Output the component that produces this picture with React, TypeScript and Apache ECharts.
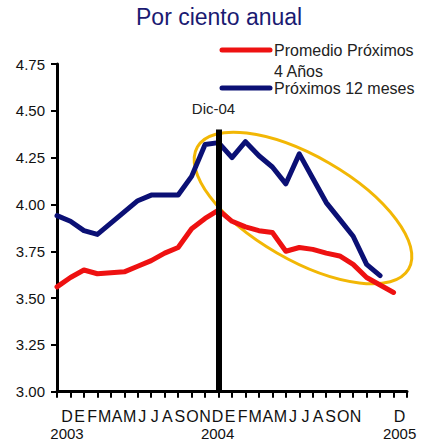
import { useEffect, useRef } from 'react';
import * as echarts from 'echarts';

const titleText = 'Por ciento anual';
const periods = ['P01','P02','P03','P04','P05','P06','P07','P08','P09','P10','P11','P12','P13','P14','P15','P16','P17','P18','P19','P20','P21','P22','P23','P24','P25','P26','P27'];
const next12Name = 'Próximos 12 meses';
const next4Name = 'Promedio Próximos 4 Años';
const next4NameLines = ['Promedio Próximos', '4 Años'];
const next12Values = [3.94, 3.91, 3.86, 3.84, 3.90, 3.96, 4.02, 4.05, 4.05, 4.05, 4.15, 4.32, 4.33, 4.25, 4.335, 4.26, 4.20, 4.11, 4.27, 4.14, 4.01, 3.92, 3.83, 3.68, 3.62];
const next4Values = [3.56, 3.61, 3.65, 3.63, 3.635, 3.64, 3.67, 3.70, 3.74, 3.77, 3.87, 3.925, 3.97, 3.91, 3.88, 3.86, 3.85, 3.75, 3.77, 3.76, 3.74, 3.725, 3.68, 3.61, 3.57, 3.53];
const yMin = 3.0;
const yMax = 4.75;
const yStep = 0.25;
const monthLetters = ['D','E','F','M','A','M','J','J','A','S','O','N','D','E','F','M','A','M','J','J','A','S','O','N','D'];
const letterSlots = [0,1,2,3,4,5,6,7,8,9,10,11,12,13,14,15,16,17,18,19,20,21,22,23,26.5];
const yearSlots = [0, 12, 26.5];
const yearLabels = ['2003', '2004', '2005'];
const markerPeriod = 'P13';
const markerTop = 4.4;
const markerLabel = 'Dic-04';

const FONT = "'Liberation Sans', Arial, sans-serif";
const RED = '#ee1111';
const BLUE = '#0b1075';

export default function App() {
  const ref = useRef<HTMLDivElement>(null);
  useEffect(() => {
    if (!ref.current) return;
    const chart = echarts.init(ref.current, null, { renderer: 'svg' });
    const findIdx = (arr: number[], v: number) => arr.findIndex((a) => Math.abs(a - v) < 1e-6);
    const labelAxis = (margin: number, size: number, fmt: (v: number) => string) => ({
      type: 'value',
      gridIndex: 1,
      position: 'bottom',
      min: -1,
      max: 27,
      interval: 0.5,
      axisLine: { show: false },
      axisTick: { show: false },
      splitLine: { show: false },
      axisLabel: {
        show: true,
        margin,
        fontFamily: FONT,
        fontSize: size,
        lineHeight: size + 1,
        color: '#111',
        showMinLabel: true,
        showMaxLabel: true,
        formatter: fmt,
      },
    });
    chart.setOption({
      animation: false,
      backgroundColor: '#fff',
      title: {
        text: titleText,
        left: 136,
        top: 5,
        padding: 0,
        textStyle: { fontFamily: FONT, fontSize: 23, fontWeight: 'normal', color: '#1a1a72' },
      },
      grid: [
        { left: 57, right: 17, top: 64, bottom: 50.3, containLabel: false, outerBoundsMode: 'none' },
        { left: 54.45, right: 18.15, top: 64, bottom: 50.3, containLabel: false, outerBoundsMode: 'none' },
      ],
      xAxis: [
        {
          type: 'category',
          gridIndex: 0,
          data: periods,
          boundaryGap: false,
          axisLine: { lineStyle: { color: '#000', width: 3 } },
          axisTick: { show: true, interval: 0, length: 6, lineStyle: { color: '#000', width: 2 } },
          axisLabel: { show: false },
          splitLine: { show: false },
        },
        labelAxis(16, 16, (v: number) => {
          const i = findIdx(letterSlots, v);
          return i < 0 ? '' : monthLetters[i];
        }),
        labelAxis(33.5, 15, (v: number) => {
          const i = findIdx(yearSlots, v);
          return i < 0 ? '' : yearLabels[i];
        }),
      ],
      yAxis: [
        {
          type: 'value',
          gridIndex: 0,
          min: yMin,
          max: yMax,
          interval: yStep,
          axisLine: { show: true, lineStyle: { color: '#000', width: 3 } },
          axisTick: { show: true, length: 6, lineStyle: { color: '#000', width: 2 } },
          axisLabel: {
            margin: 12,
            fontFamily: FONT,
            fontSize: 15,
            color: '#111',
            formatter: (v: number) => v.toFixed(2),
          },
          splitLine: { show: false },
        },
        { type: 'value', gridIndex: 1, min: 0, max: 1, show: false },
      ],
      series: [
        {
          name: next4Name,
          type: 'line',
          xAxisIndex: 0,
          yAxisIndex: 0,
          data: next4Values,
          showSymbol: false,
          symbol: 'none',
          lineStyle: { color: RED, width: 5, cap: 'round', join: 'round' },
          z: 3,
          markLine: {
            silent: true,
            symbol: ['none', 'none'],
            lineStyle: { color: '#000', width: 6, type: 'solid' },
            label: {
              show: true,
              position: 'end',
              distance: 14,
              offset: [-5, 0],
              formatter: markerLabel,
              fontFamily: FONT,
              fontSize: 15,
              color: '#222',
            },
            data: [[{ coord: [markerPeriod, yMin] }, { coord: [markerPeriod, markerTop] }]],
          },
        },
        {
          name: next12Name,
          type: 'line',
          xAxisIndex: 0,
          yAxisIndex: 0,
          data: next12Values,
          showSymbol: false,
          symbol: 'none',
          lineStyle: { color: BLUE, width: 5, cap: 'round', join: 'round' },
          z: 2,
        },
      ],
      graphic: [
        {
          type: 'ellipse',
          x: 303,
          y: 208,
          rotation: -0.524,
          shape: { cx: 0, cy: 0, rx: 122, ry: 52 },
          style: { fill: 'none', stroke: '#f2b705', lineWidth: 3 },
          z: 1,
        },
        {
          type: 'line',
          shape: { x1: 222, y1: 50, x2: 270, y2: 50 },
          style: { stroke: RED, lineWidth: 5, lineCap: 'round' },
        },
        {
          type: 'text',
          x: 274,
          y: 50,
          style: { text: next4NameLines[0], fontFamily: FONT, fontSize: 16, fill: '#222', verticalAlign: 'middle' },
        },
        {
          type: 'text',
          x: 274,
          y: 71,
          style: { text: next4NameLines[1], fontFamily: FONT, fontSize: 16, fill: '#222', verticalAlign: 'middle' },
        },
        {
          type: 'line',
          shape: { x1: 222, y1: 88, x2: 270, y2: 88 },
          style: { stroke: BLUE, lineWidth: 5, lineCap: 'round' },
        },
        {
          type: 'text',
          x: 274,
          y: 88,
          style: { text: next12Name, fontFamily: FONT, fontSize: 16, fill: '#222', verticalAlign: 'middle' },
        },
      ],
    });
    return () => chart.dispose();
  }, []);
  return <div ref={ref} style={{ position: 'fixed', left: 0, top: 0, width: 424, height: 442 }} />;
}
